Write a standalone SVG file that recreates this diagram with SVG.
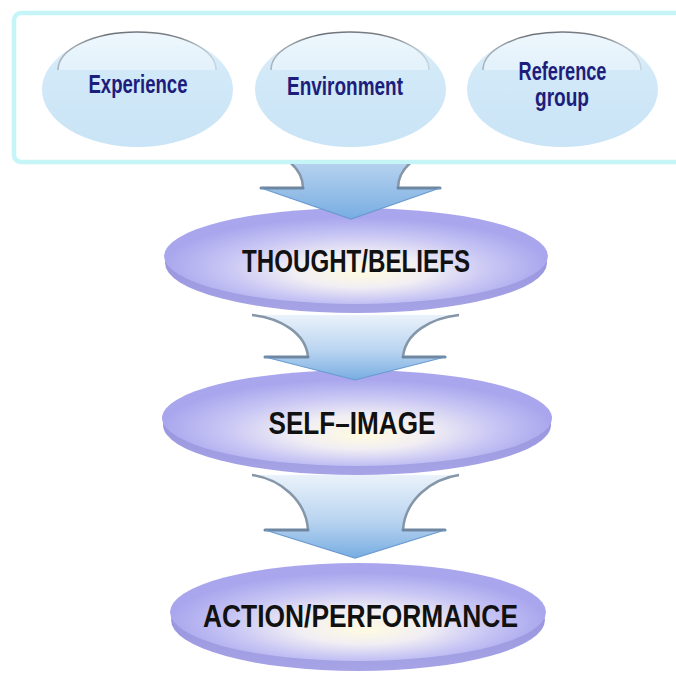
<svg xmlns="http://www.w3.org/2000/svg" width="676" height="673" viewBox="0 0 676 673">
  <defs>
    <linearGradient id="bubbleFill" x1="0" y1="0" x2="0" y2="1">
      <stop offset="0" stop-color="#e3f1fb"/>
      <stop offset="0.35" stop-color="#d2e9f8"/>
      <stop offset="1" stop-color="#c9e4f6"/>
    </linearGradient>
    <linearGradient id="glossFill" x1="0" y1="0" x2="0" y2="1">
      <stop offset="0" stop-color="#eef7fd"/>
      <stop offset="1" stop-color="#e2f1fb"/>
    </linearGradient>
    <linearGradient id="glossEdge" x1="0" y1="0" x2="1" y2="0">
      <stop offset="0" stop-color="#8a8f96" stop-opacity="0.6"/>
      <stop offset="0.3" stop-color="#6d7278"/>
      <stop offset="0.75" stop-color="#7c8187"/>
      <stop offset="1" stop-color="#a8b0b8" stop-opacity="0.4"/>
    </linearGradient>
    <radialGradient id="discFace" cx="0.5" cy="0.6" r="0.5" fx="0.52" fy="0.68">
      <stop offset="0" stop-color="#fffbe0"/>
      <stop offset="0.35" stop-color="#f1eef4"/>
      <stop offset="0.7" stop-color="#c7c5f4"/>
      <stop offset="1" stop-color="#a9a6ee"/>
    </radialGradient>
    <linearGradient id="discRim" x1="0" y1="0" x2="0" y2="1">
      <stop offset="0" stop-color="#8f8bd8"/>
      <stop offset="1" stop-color="#a6a3e6"/>
    </linearGradient>
    <linearGradient id="arrowFill" x1="0" y1="0" x2="0" y2="1">
      <stop offset="0" stop-color="#eaf2fb"/>
      <stop offset="0.55" stop-color="#b9d4f0"/>
      <stop offset="1" stop-color="#78ade2"/>
    </linearGradient>
    <linearGradient id="arrowFillShort" x1="0" y1="0" x2="0" y2="1">
      <stop offset="0" stop-color="#c6dcf2"/>
      <stop offset="1" stop-color="#78ade2"/>
    </linearGradient>
    <clipPath id="belowBox">
      <rect x="0" y="164" width="676" height="509"/>
    </clipPath>
    <style>
      .frame { fill: #ffffff; stroke: #c6f5f8; stroke-width: 4.5; }
      .bubble { fill: url(#bubbleFill); }
      .gloss { fill: url(#glossFill); }
      .glossEdge { fill: none; stroke: url(#glossEdge); stroke-width: 1.6; }
      .small { font-family: "Liberation Sans", Arial, sans-serif; font-weight: bold; font-size: 25px; fill: #1d1d7c; text-anchor: middle; }
      .face { fill: url(#discFace); }
      .rim { fill: url(#discRim); }
      .big { font-family: "Liberation Sans", Arial, sans-serif; font-weight: bold; font-size: 31px; fill: #111111; text-anchor: middle; }
      .side { fill: none; stroke: #8496a8; stroke-width: 2.5; }
      .shoulder { fill: none; stroke: #6f86a0; stroke-width: 3; stroke-linecap: round; }
      .headEdge { fill: none; stroke: #6a9ad0; stroke-width: 1.2; }
    </style>
  </defs>

  <rect width="676" height="673" fill="#ffffff"/>

  <!-- input group frame with the three influences -->
  <g id="inputs">
    <rect class="frame" x="14" y="13" width="700" height="149" rx="7"/>
    <g id="experience">
      <ellipse class="bubble" cx="137.5" cy="89.5" rx="95.5" ry="57.5"/>
      <path class="gloss" d="M58 70 A79 38 0 0 1 216 70 Z"/>
      <path class="glossEdge" d="M58 70 A79 38 0 0 1 216 70"/>
      <text class="small" x="138" y="93" textLength="99" lengthAdjust="spacingAndGlyphs">Experience</text>
    </g>
    <g id="environment">
      <ellipse class="bubble" cx="350.5" cy="89.5" rx="95.5" ry="57.5"/>
      <path class="gloss" d="M271 70 A79 38 0 0 1 429 70 Z"/>
      <path class="glossEdge" d="M271 70 A79 38 0 0 1 429 70"/>
      <text class="small" x="345" y="95" textLength="116" lengthAdjust="spacingAndGlyphs">Environment</text>
    </g>
    <g id="reference-group">
      <ellipse class="bubble" cx="562.5" cy="89.5" rx="95.5" ry="57.5"/>
      <path class="gloss" d="M483 70 A79 38 0 0 1 641 70 Z"/>
      <path class="glossEdge" d="M483 70 A79 38 0 0 1 641 70"/>
      <text class="small" x="562.5" y="80" textLength="88" lengthAdjust="spacingAndGlyphs">Reference</text>
      <text class="small" x="562" y="106" textLength="54" lengthAdjust="spacingAndGlyphs">group</text>
    </g>
  </g>

  <!-- stage discs -->
  <g id="thought-beliefs">
    <ellipse class="rim" cx="356" cy="263" rx="191" ry="50"/>
    <ellipse class="face" cx="356" cy="256" rx="192" ry="48"/>
    <text class="big" x="356" y="272" textLength="228" lengthAdjust="spacingAndGlyphs">THOUGHT/BELIEFS</text>
  </g>
  <g id="self-image">
    <ellipse class="rim" cx="357" cy="425" rx="194" ry="50"/>
    <ellipse class="face" cx="357" cy="418" rx="195" ry="48"/>
    <text class="big" x="352" y="434" textLength="167" lengthAdjust="spacingAndGlyphs">SELF–IMAGE</text>
  </g>
  <g id="action-performance">
    <ellipse class="rim" cx="358" cy="620" rx="187" ry="51"/>
    <ellipse class="face" cx="358" cy="612" rx="188" ry="49"/>
    <text class="big" x="360.5" y="627" textLength="315" lengthAdjust="spacingAndGlyphs">ACTION/PERFORMANCE</text>
  </g>

  <!-- block arrows between stages -->
  <g id="connectors">
    <g id="arrow-inputs-thought" clip-path="url(#belowBox)">
      <path fill="url(#arrowFillShort)" d="M247 148 L454 148 A56 40 0 0 0 398 188 L440 188 L351 219 L261 188 L303 188 A56 40 0 0 0 247 148 Z"/>
      <path class="side" d="M303 188 A56 40 0 0 0 247 148 M398 188 A56 40 0 0 1 454 148"/>
      <path class="shoulder" d="M261 188 L303 188 M398 188 L440 188"/>
      <path class="headEdge" d="M261 188 L351 219 L440 188"/>
    </g>
    <g id="arrow-thought-self">
      <path fill="url(#arrowFill)" d="M252 315 L459 315 C431 318 405 333 403 357 L445 357 L355 380 L265 357 L308 357 C306 333 280 318 252 315 Z"/>
      <path class="side" d="M308 357 C306 333 280 318 252 315 M403 357 C405 333 431 318 459 315"/>
      <path class="shoulder" d="M265 357 L308 357 M403 357 L445 357"/>
      <path class="headEdge" d="M265 357 L355 380 L445 357"/>
    </g>
    <g id="arrow-self-action">
      <path fill="url(#arrowFill)" d="M252 475 L459 475 C431 479 405 500 403 530 L445 530 L355 558 L265 530 L308 530 C306 500 280 479 252 475 Z"/>
      <path class="side" d="M308 530 C306 500 280 479 252 475 M403 530 C405 500 431 479 459 475"/>
      <path class="shoulder" d="M265 530 L308 530 M403 530 L445 530"/>
      <path class="headEdge" d="M265 530 L355 558 L445 530"/>
    </g>
  </g>
</svg>
